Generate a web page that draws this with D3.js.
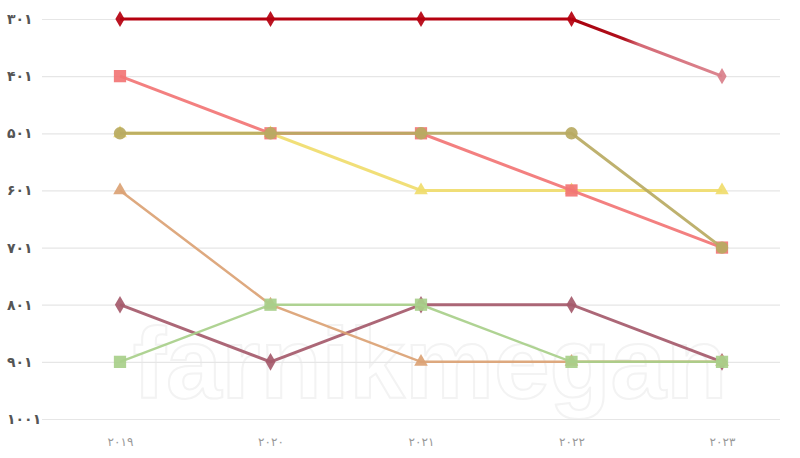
<!DOCTYPE html>
<html><head><meta charset="utf-8">
<script src="https://cdn.jsdelivr.net/npm/d3@7"></script>
<style>html,body{margin:0;padding:0;background:#fff;}svg{display:block;}</style>
</head><body>
<svg id="c" width="800" height="458"></svg>
<script>
const years = ["2019","2020","2021","2022","2023"];
const rankTicks = [301,401,501,601,701,801,901,1001];
const seriesNames = ["s1","s2","s3","s4","s5","s6","s7"];
const s1 = [301,301,301,301,401];
const s2 = [401,501,501,601,701];
const s3 = [501,501,501,501,701];
const s4 = [501,501,601,601,601];
const s5 = [601,801,901,901,901];
const s6 = [801,901,801,801,901];
const s7 = [901,801,801,901,901];

const toFa = s => String(s).replace(/\d/g, d => "۰۱۲۳۴۵۶۷۸۹"[+d]);

const svg = d3.select("#c");
const x = d3.scalePoint().domain(years).range([120, 722]);
const y = d3.scaleLinear().domain([301, 1001]).range([19, 419]);

// watermark
svg.append("text").attr("x", 430).attr("y", 398).attr("text-anchor","middle")
  .attr("font-family","Liberation Sans").attr("font-weight","bold").attr("font-size",100)
  .attr("fill","none").attr("stroke","#f3f3f3").attr("stroke-width",2)
  .text("farnikmegan");

// grid + y axis
const yAxis = svg.append("g").attr("transform","translate(42,0)")
  .call(d3.axisLeft(y).tickValues(rankTicks).tickSize(-738).tickFormat(toFa));
yAxis.select(".domain").remove();
yAxis.selectAll(".tick line").attr("stroke","#e6e6e6").attr("stroke-width",1.2);
yAxis.selectAll(".tick text").attr("x",-35).attr("text-anchor","start")
  .attr("fill","#555").attr("font-weight","bold")
  .attr("font-size",14).attr("font-family","DejaVu Sans");

// x axis
const xAxis = svg.append("g").attr("transform","translate(0,430)")
  .call(d3.axisBottom(x).tickSize(0).tickFormat(toFa));
xAxis.select(".domain").remove();
xAxis.selectAll(".tick text").attr("dy",13).attr("fill","#999").attr("font-size",12)
  .attr("font-family","DejaVu Sans");

const defs = svg.append("defs");
const g1 = defs.append("linearGradient").attr("id","fade").attr("gradientUnits","userSpaceOnUse")
  .attr("x1",x("2022")).attr("y1",0).attr("x2",x("2023")).attr("y2",0);
g1.append("stop").attr("offset","0%").attr("stop-color","#a8000c");
g1.append("stop").attr("offset","35%").attr("stop-color","#b0101c");
g1.append("stop").attr("offset","45%").attr("stop-color","#d46a76");
g1.append("stop").attr("offset","100%").attr("stop-color","#dc8690");

const series = [
  {vals:s6, color:"#a55a6b", sym:d3.symbolDiamond, size:90, w:3},
  {vals:s5, color:"#dba274", sym:d3.symbolTriangle, size:80, w:2.5},
  {vals:s7, color:"#a8cf8a", sym:d3.symbolSquare, size:150, w:2.5},
  {vals:s4, color:"#f0dc6c", sym:d3.symbolTriangle, size:80, w:3},
  {vals:s2, color:"#f27575", sym:d3.symbolSquare, size:150, w:3},
  {vals:s3, color:"#b9aa62", sym:d3.symbolCircle, size:120, w:3},
  {vals:s1, color:"#b5000f", sym:d3.symbolDiamond, size:75, w:3, fade:true},
];

const line = d3.line().x((d,i)=>x(years[i])).y(d=>y(d));

series.forEach((s, k) => {
  const g = svg.append("g").attr("class", seriesNames[k]);
  if (s.fade) {
    g.append("path").attr("d", line(s.vals.slice(0,4))).attr("fill","none")
      .attr("stroke", s.color).attr("stroke-width", s.w);
    g.append("path").attr("d", d3.line().x((d,i)=>x(years[i+3])).y(d=>y(d))(s.vals.slice(3)))
      .attr("fill","none").attr("stroke","url(#fade)").attr("stroke-width", s.w);
  } else {
    g.append("path").attr("d", line(s.vals)).attr("fill","none")
      .attr("stroke", s.color).attr("stroke-width", s.w).attr("stroke-opacity",0.92);
  }
  g.selectAll("path.m").data(s.vals).join("path").attr("class","m")
    .attr("transform",(d,i)=>`translate(${x(years[i])},${y(d)})`)
    .attr("d", d3.symbol().type(s.sym).size(s.size))
    .attr("fill",(d,i)=> s.fade && i===4 ? "#d97f8a" : s.color)
    .attr("fill-opacity",0.92);
});
</script>
</body></html>
